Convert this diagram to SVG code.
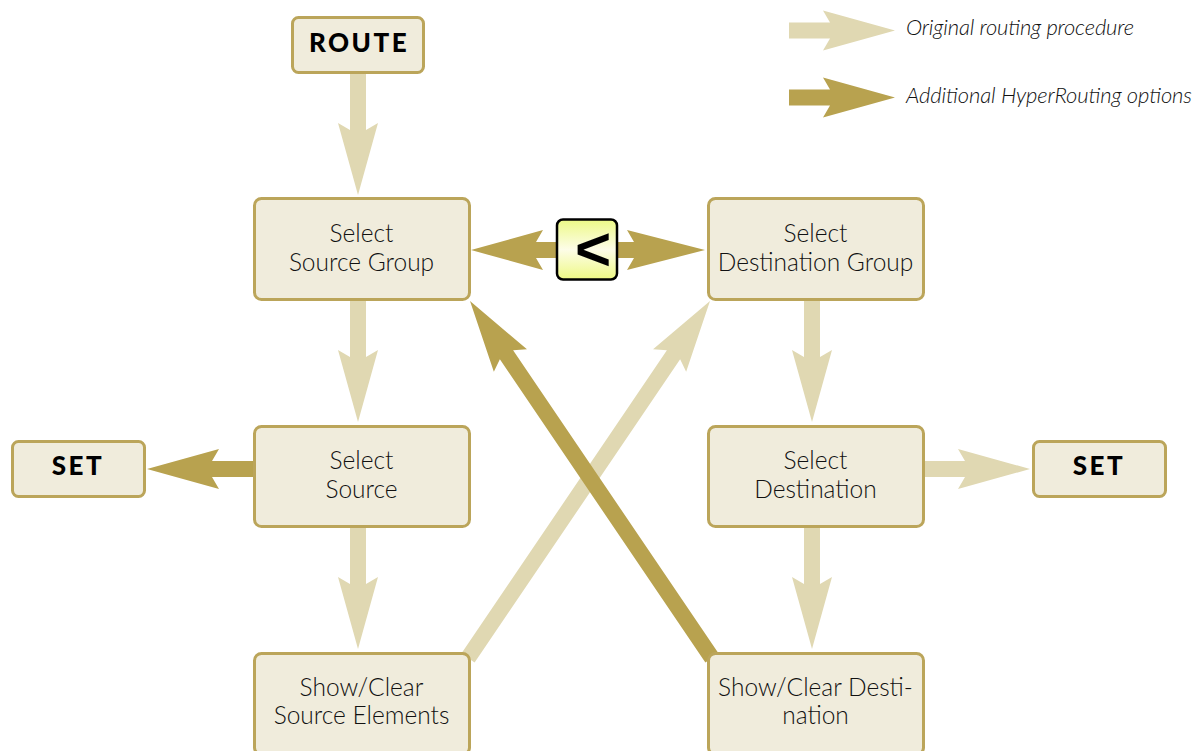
<svg xmlns="http://www.w3.org/2000/svg" width="1195" height="751" viewBox="0 0 1195 751">
<style>
.box{fill:#f0ecdc;stroke:#bba55a;stroke-width:3}
.lt{fill:#e0d8b2}
.dk{fill:#b8a24f}
.t{font-family:Lato,"Open Sans","Liberation Sans",sans-serif;font-weight:300;font-size:24.5px;fill:#111;text-anchor:middle}
.b{font-family:Lato,"Liberation Sans",sans-serif;font-weight:900;font-size:26px;fill:#000;text-anchor:middle;letter-spacing:2.5px}
.lg{font-family:Lato,"Open Sans","Liberation Sans",sans-serif;font-weight:300;font-style:italic;font-size:22px;fill:#111}
</style>
<defs>
<path id="a121" d="M0,-8 H56 L49,-20 L121,0 L49,20 L56,8 H0 Z"/>
<path id="a106" d="M0,-8 H41 L34,-20 L106,0 L34,20 L41,8 H0 Z"/>
<path id="a431" d="M0,-8 H366.3 L359.3,-20 L431.3,0 L359.3,20 L366.3,8 H0 Z"/>
<linearGradient id="yg" x1="0" y1="0" x2="0" y2="1">
<stop offset="0" stop-color="#ecf986"/>
<stop offset="0.5" stop-color="#fdfde8"/>
<stop offset="1" stop-color="#eef984"/>
</linearGradient>
</defs>

<g id="legend">
<use href="#a106" class="lt" transform="translate(789,30.5)"/>
<text class="lg" x="906" y="35" textLength="228" lengthAdjust="spacing">Original routing procedure</text>
<use href="#a106" class="dk" transform="translate(789,97.5)"/>
<text class="lg" x="906" y="103" textLength="286" lengthAdjust="spacing">Additional HyperRouting options</text>
</g>

<g id="connectors">
<use href="#a121" class="lt" transform="translate(358,74) rotate(90)"/>
<use href="#a121" class="lt" transform="translate(358,301) rotate(90)"/>
<use href="#a121" class="lt" transform="translate(358,528) rotate(90)"/>
<use href="#a121" class="lt" transform="translate(812,301) rotate(90)"/>
<use href="#a121" class="lt" transform="translate(812,528) rotate(90)"/>
<use href="#a106" class="lt" transform="translate(924,469)"/>
<use href="#a106" class="dk" transform="translate(253,469) rotate(180)"/>
<path class="dk" d="M471,250 L543,230 L536,242 H634 L627,230 L705,250 L627,270 L634,258 H536 L543,270 Z"/>
<use href="#a431" class="lt" transform="translate(468,658) rotate(-55.87)"/>
<use href="#a431" class="dk" transform="translate(712,658) rotate(-124.13)"/>
</g>

<g id="route">
<rect class="box" x="292.5" y="17.5" width="131" height="55" rx="6"/>
<text class="b" x="359" y="52">ROUTE</text>
</g>
<g id="select-source-group">
<rect class="box" x="254.5" y="198.5" width="215" height="101" rx="7"/>
<text class="t" x="361.5" y="242">Select</text>
<text class="t" x="361.5" y="271">Source Group</text>
</g>
<g id="select-source">
<rect class="box" x="254.5" y="426.5" width="215" height="100" rx="7"/>
<text class="t" x="361.5" y="469">Select</text>
<text class="t" x="361.5" y="498">Source</text>
</g>
<g id="show-clear-source">
<rect class="box" x="254.5" y="653.5" width="215" height="101" rx="7"/>
<text class="t" x="361.5" y="696">Show/Clear</text>
<text class="t" x="361.5" y="724">Source Elements</text>
</g>
<g id="select-destination-group">
<rect class="box" x="708.5" y="198.5" width="215" height="101" rx="7"/>
<text class="t" x="815.5" y="242">Select</text>
<text class="t" x="815.5" y="271">Destination Group</text>
</g>
<g id="select-destination">
<rect class="box" x="708.5" y="426.5" width="215" height="100" rx="7"/>
<text class="t" x="815.5" y="469">Select</text>
<text class="t" x="815.5" y="498">Destination</text>
</g>
<g id="show-clear-destination">
<rect class="box" x="708.5" y="653.5" width="215" height="101" rx="7"/>
<text class="t" x="815.5" y="696">Show/Clear Desti-</text>
<text class="t" x="815.5" y="724">nation</text>
</g>
<g id="set-left">
<rect class="box" x="12.5" y="441.5" width="132" height="55" rx="6"/>
<text class="b" x="78" y="475">SET</text>
</g>
<g id="set-right">
<rect class="box" x="1033.5" y="441.5" width="132" height="55" rx="6"/>
<text class="b" x="1099" y="475">SET</text>
</g>
<g id="swap">
<rect x="557" y="219.5" width="60" height="60" rx="6" fill="url(#yg)" stroke="#000" stroke-width="2.5"/>
<text x="593" y="270" font-family="'Liberation Sans',Arial,sans-serif" font-weight="bold" font-size="62" text-anchor="middle" fill="#000">&lt;</text>
</g>
</svg>
